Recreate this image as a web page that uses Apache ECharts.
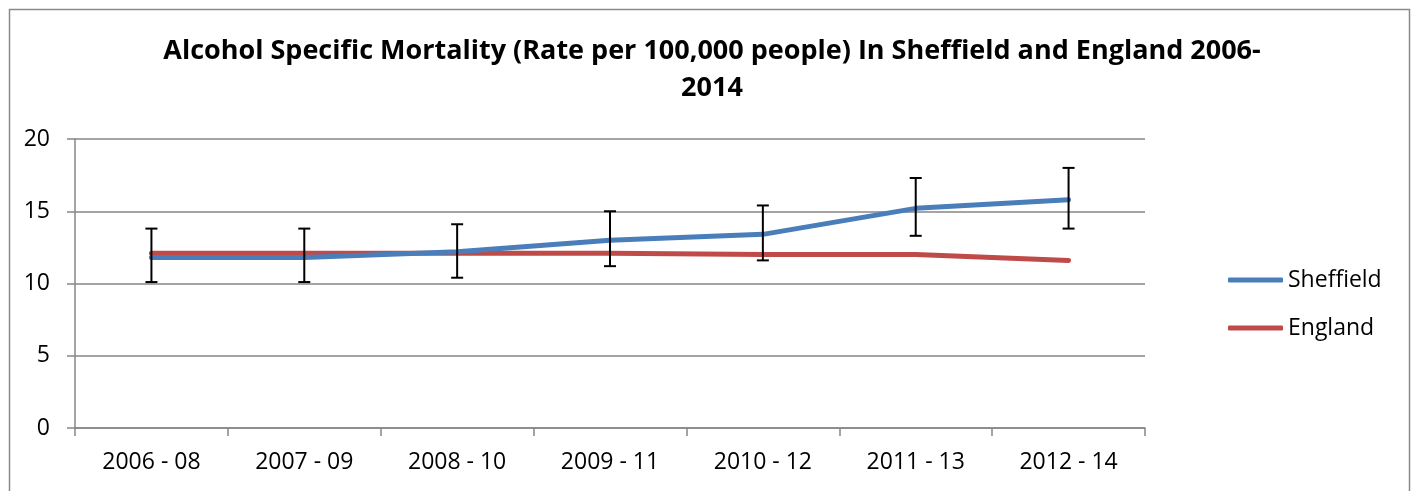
<!DOCTYPE html>
<html>
<head>
<meta charset="utf-8">
<script src="https://cdn.jsdelivr.net/npm/echarts@6/dist/echarts.min.js"></script>
<style>
html,body{margin:0;padding:0;background:#fff;}
#chart{width:1415px;height:491px;}
</style>
</head>
<body>
<div id="chart"></div>
<script>
var categories = ['2006 - 08', '2007 - 09', '2008 - 10', '2009 - 11', '2010 - 12', '2011 - 13', '2012 - 14'];
var sheffield = [11.8, 11.8, 12.2, 13.0, 13.4, 15.2, 15.8];
var sheffieldLow = [10.1, 10.1, 10.4, 11.2, 11.6, 13.3, 13.8];
var sheffieldHigh = [13.8, 13.8, 14.1, 15.0, 15.4, 17.3, 18.0];
var england = [12.1, 12.1, 12.1, 12.1, 12.0, 12.0, 11.6];
var yTicks = [0, 5, 10, 15, 20];

var FONT = 'Open Sans';
var chart = echarts.init(document.getElementById('chart'));

var errData = categories.map(function (c, i) { return [i, sheffieldLow[i], sheffieldHigh[i]]; });

chart.setOption({
  animation: false,
  backgroundColor: '#fff',
  title: {
    text: 'Alcohol Specific Mortality (Rate per 100,000 people) In Sheffield and England 2006-\n2014',
    left: 707, top: 28, textAlign: 'center',
    textStyle: { fontFamily: FONT, fontWeight: 'bold', fontSize: 27, color: '#000', lineHeight: 37 }
  },
  graphic: [{
    type: 'rect', left: 7, top: 7, silent: true,
    shape: { width: 1400, height: 500 },
    style: { fill: null, stroke: '#8a8a8a', lineWidth: 1.5 }
  }],
  legend: {
    orient: 'vertical', left: 1223, top: 263,
    itemWidth: 55, itemHeight: 5, itemGap: 24, icon: 'roundRect',
    textStyle: { fontFamily: FONT, fontSize: 23, color: '#000', lineHeight: 24 },
    data: ['Sheffield', 'England']
  },
  grid: { left: 75, top: 139, width: 1070, height: 289, containLabel: false },
  xAxis: {
    type: 'category', data: categories, boundaryGap: true,
    axisLine: { lineStyle: { color: '#868686', width: 1.5 } },
    axisTick: { show: true, length: 8, lineStyle: { color: '#868686', width: 1.5 } },
    axisLabel: { fontFamily: FONT, fontSize: 23, color: '#000', margin: 23 }
  },
  yAxis: {
    type: 'value', min: yTicks[0], max: yTicks[yTicks.length - 1], interval: 5,
    axisLine: { show: true, lineStyle: { color: '#868686', width: 1.5 } },
    axisTick: { show: true, length: 8, lineStyle: { color: '#868686', width: 1.5 } },
    splitLine: { lineStyle: { color: '#868686', width: 1.5 } },
    axisLabel: { fontFamily: FONT, fontSize: 23, color: '#000', margin: 25 }
  },
  series: [
    {
      name: 'Sheffield', type: 'line', data: sheffield, symbol: 'none', z: 3,
      lineStyle: { color: '#4A7EBB', width: 5, cap: 'round', join: 'round' },
      itemStyle: { color: '#4A7EBB' }
    },
    {
      name: 'England', type: 'line', data: england, symbol: 'none', z: 2,
      lineStyle: { color: '#BE4B48', width: 5, cap: 'round', join: 'round' },
      itemStyle: { color: '#BE4B48' }
    },
    {
      name: 'err', type: 'custom', data: errData, z: 4,
      renderItem: function (params, api) {
        var x = api.value(0);
        var lo = api.coord([x, api.value(1)]);
        var hi = api.coord([x, api.value(2)]);
        var w = 6;
        var st = { stroke: '#000', lineWidth: 2 };
        return {
          type: 'group',
          children: [
            { type: 'line', shape: { x1: lo[0], y1: lo[1], x2: hi[0], y2: hi[1] }, style: st },
            { type: 'line', shape: { x1: lo[0] - w, y1: lo[1], x2: lo[0] + w, y2: lo[1] }, style: st },
            { type: 'line', shape: { x1: hi[0] - w, y1: hi[1], x2: hi[0] + w, y2: hi[1] }, style: st }
          ]
        };
      }
    }
  ]
});
</script>
</body>
</html>
